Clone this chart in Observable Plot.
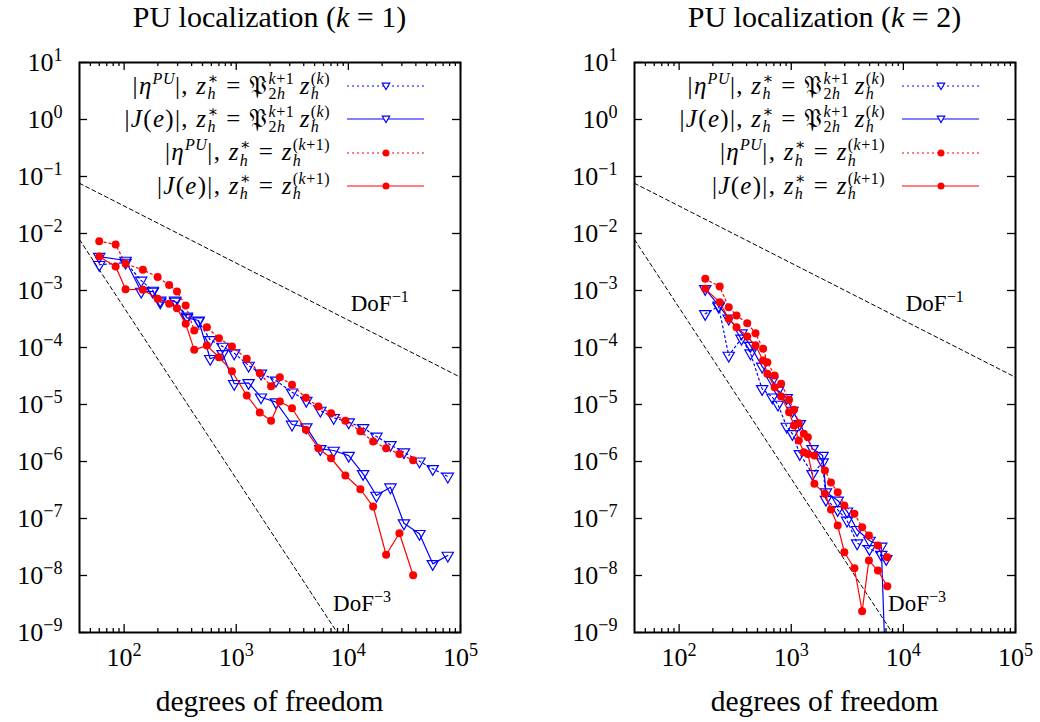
<!DOCTYPE html>
<html><head><meta charset="utf-8">
<script src="https://cdn.jsdelivr.net/npm/d3@7"></script>
<script src="https://cdn.jsdelivr.net/npm/@observablehq/plot@0.6"></script>
<style>
body{margin:0;background:#fff;}
#root{position:relative;width:1040px;height:722px;overflow:hidden;font-family:'Liberation Serif','DejaVu Serif',serif;color:#000;background:#fff}
.panel{position:absolute;top:0;height:722px}
.title{position:absolute;top:0;height:34px;line-height:34px;font-size:30px;text-align:center;white-space:nowrap}
.xlabel{position:absolute;top:685px;height:32px;line-height:32px;font-size:29.5px;text-align:center;white-space:nowrap}
.leg{position:absolute;height:30px;display:flex;align-items:center;justify-content:flex-end;font-size:25px;white-space:nowrap;line-height:1;letter-spacing:1.3px}
.ss{display:inline-flex;flex-direction:column;font-size:0.64em;line-height:0.95;vertical-align:0.6em;text-align:left;letter-spacing:0.5px}
sup{font-size:0.64em;vertical-align:0.6em;line-height:0;letter-spacing:0.5px}
.sp{display:inline-block;width:0.22em}
.sw{position:absolute}
</style>
</head><body>
<div id="root"></div>
<script>
// ---------- data ----------
// Left panel (k = 1)
const leftRedX   = [60, 84, 103, 147, 199, 252, 296, 354, 422, 547, 701, 915, 1241, 1621, 2045, 2446, 3143, 4174, 5398, 7006, 9402, 12800, 16620, 21710, 28530, 37810];
const leftRedEta = [7.33e-3, 6.41e-3, 2.94e-3, 2.31e-3, 1.72e-3, 1.25e-3, 9.6e-4, 5.45e-4, 1.99e-4, 2.27e-4, 1.46e-4, 1.04e-4, 6.34e-5, 3.54e-5, 2.09e-5, 3.01e-5, 2.22e-5, 1.31e-5, 9.2e-6, 7.0e-6, 5.2e-6, 3.4e-6, 2.24e-6, 1.71e-6, 1.36e-6, 1.05e-6];
const leftRedJ   = [3.94e-3, 2.64e-3, 1.05e-3, 1.03e-3, 7.15e-4, 5.85e-4, 4.89e-4, 2.6e-4, 9.1e-5, 1.08e-4, 6.76e-5, 3.84e-5, 1.44e-5, 7.25e-6, 5.18e-6, 1.13e-5, 8.6e-6, 3.6e-6, 1.71e-6, 1.14e-6, 5.68e-7, 3.26e-7, 1.62e-7, 2.31e-8, 5.52e-8, 1.01e-8];
const leftBlueX   = [60, 103, 142, 180, 210, 285, 363, 461, 586, 755, 959, 1288, 1662, 2262, 3143, 4217, 5623, 7393, 10063, 13532, 17783, 23714, 31294, 43046, 56576, 77006];
const leftBlueEta = [2.83e-3, 3.1e-3, 1.5e-3, 1.0e-3, 6.68e-4, 6.68e-4, 3.5e-4, 2.89e-4, 1.36e-4, 1.04e-4, 7.95e-5, 4.83e-5, 3.5e-5, 2.64e-5, 1.64e-5, 1.17e-5, 7.85e-6, 5.85e-6, 4.89e-6, 3.9e-6, 2.75e-6, 1.96e-6, 1.46e-6, 1.01e-6, 7.44e-7, 5.46e-7];
const leftBlueJ   = [3.94e-3, 3.36e-3, 9.6e-4, 9.6e-4, 6.24e-4, 6.41e-4, 3.32e-4, 2.98e-4, 6.34e-5, 7.75e-5, 2.31e-5, 2.4e-5, 1.34e-5, 1.10e-5, 4.46e-6, 4.0e-6, 1.67e-6, 1.56e-6, 1.27e-6, 6.08e-7, 2.53e-7, 3.54e-7, 8.28e-8, 5.4e-8, 1.6e-8, 2.24e-8];
// Right panel (k = 2)
const rightRedX   = [171, 230, 277, 325, 405, 480, 561, 612, 711, 813, 956, 1059, 1168, 1295, 1406, 1608, 1997, 2261, 2596, 2975, 3658, 4289, 4924, 5932, 7187];
const rightRedEta = [1.60e-3, 1.17e-3, 5.09e-4, 3.64e-4, 2.67e-4, 1.78e-4, 9.5e-5, 5.52e-5, 3.23e-5, 2.31e-5, 1.21e-5, 8.07e-6, 4.70e-6, 3.06e-6, 2.67e-6, 1.27e-6, 6.95e-7, 4.28e-7, 2.89e-7, 1.69e-7, 1.21e-7, 7.03e-8, 5.03e-8, 3.36e-8, 2.09e-8];
const rightRedJ   = [1.07e-3, 6.24e-4, 3.19e-4, 2.27e-4, 1.56e-4, 1.08e-4, 5.92e-5, 3.46e-5, 2.01e-5, 1.38e-5, 7.32e-6, 4.28e-6, 2.34e-6, 1.46e-6, 1.36e-6, 4.06e-7, 2.71e-7, 1.44e-7, 7.54e-8, 2.56e-8, 1.34e-8, 2.36e-9, 1.83e-8, 1.22e-8, 6.49e-9];
const rightBlueX   = [171, 225, 277, 360, 433, 550, 678, 761, 911, 1025, 1192, 1549, 1905, 2039, 2596, 3147, 3867, 4987, 6350, 7040];
const rightBlueEta = [3.90e-4, 5.24e-4, 7.24e-5, 1.44e-4, 7.94e-5, 1.88e-5, 1.34e-5, 1.0e-5, 4.11e-6, 3.06e-6, 1.36e-6, 6.08e-7, 9.72e-7, 2.15e-7, 1.42e-7, 9.23e-8, 3.69e-8, 2.94e-8, 2.33e-8, 1.96e-8];
const rightBlueJ   = [1.07e-3, 5.46e-4, 3.23e-4, 1.78e-4, 1.08e-4, 4.65e-5, 2.64e-5, 1.76e-5, 1.31e-5, 7.85e-6, 4.58e-6, 1.67e-6, 1.27e-6, 2.89e-7, 2.07e-7, 1.34e-7, 6.34e-8, 4.11e-8, 3.23e-8, 1e-10];
// Reference slopes (end points)
const refDoF1X = [40, 1e5];
const refDoF1Y = [0.076, 3.0e-5];
const refDoF3X = [40, 1e4];
const refDoF3Y = [7.8e-3, 5.0e-10];
const refLabels = ["DoF^−1", "DoF^−3"];
const refLabelX = [10500, 7300];
const refLabelY = [6.0e-4, 3.2e-9];
// Axes
const xMajor = [1e2, 1e3, 1e4, 1e5];
const yMajor = [1e1, 1e0, 1e-1, 1e-2, 1e-3, 1e-4, 1e-5, 1e-6, 1e-7, 1e-8, 1e-9];
const panelTitles = ["1", "2"];
const xLabel = "degrees of freedom";

// ---------- drawing ----------
const FONT = "'Liberation Serif', 'DejaVu Serif', serif";
const BLUE = "#0000ff", RED = "#ff0000";
const NS = "http://www.w3.org/2000/svg";
const xMinor = [];
for (let e = 1; e <= 4; e++) for (let m = 2; m <= 9; m++) { const v = m * 10 ** e; if (v > 40 && v < 1e5) xMinor.push(v); }
const fmt = d => { const e = Math.round(Math.log10(d)); return "10^" + (e < 0 ? "−" + (-e) : e); };
const pts = (xs, ys) => xs.map((x, i) => ({x, y: ys[i]}));

function seriesMarks(xs, ys, color, dotted, sym) {
  const d = pts(xs, ys);
  const lineOpts = {x: "x", y: "y", stroke: color, strokeWidth: 1.2, clip: true};
  if (dotted) lineOpts.strokeDasharray = "2,3";
  const dot = sym === "circle"
    ? Plot.dot(d, {x: "x", y: "y", r: 4, fill: color, stroke: "none", clip: true})
    : Plot.dot(d, {x: "x", y: "y", symbol: "triangle", r: 4.2, rotate: 180, stroke: color, fill: "none", strokeWidth: 1.2, clip: true});
  return [Plot.line(d, lineOpts), dot];
}

function fixSup(el) {
  const s = el.textContent; const i = s.indexOf("^");
  if (i < 0) return;
  el.textContent = "";
  const a = document.createElementNS(NS, "tspan"); a.textContent = s.slice(0, i);
  const b = document.createElementNS(NS, "tspan"); b.textContent = s.slice(i + 1);
  b.setAttribute("dy", "-0.55em"); b.setAttribute("font-size", "0.7em");
  el.append(a, b);
}

const ML = 79, MT = 62, MB = 90, H = 722;
function makePanel(width, mr, blueX, blueEta, blueJ, redX, redEta, redJ) {
  const fw = width - ML - mr, fh = H - MT - MB;
  const svg = Plot.plot({
    width, height: H, marginLeft: ML, marginRight: mr, marginTop: MT, marginBottom: MB,
    style: {fontFamily: FONT, fontSize: "24px", background: "transparent", overflow: "visible", color: "black"},
    x: {type: "log", domain: [40, 1e5]},
    y: {type: "log", domain: [1e-9, 10]},
    marks: [
      Plot.axisX({anchor: "bottom", ticks: xMajor, tickSize: 0, tickPadding: 15, tickFormat: fmt, label: null, fontSize: 26}),
      Plot.axisY({anchor: "left", ticks: yMajor, tickSize: 0, tickPadding: 17, tickFormat: fmt, label: null, fontSize: 26}),
      Plot.tickX(xMajor, {x: d => d, insetTop: fh - 8, stroke: "black", strokeWidth: 1.3}),
      Plot.tickX(xMajor, {x: d => d, insetBottom: fh - 8, stroke: "black", strokeWidth: 1.3}),
      Plot.tickX(xMinor, {x: d => d, insetTop: fh - 4, stroke: "black", strokeWidth: 1.3}),
      Plot.tickX(xMinor, {x: d => d, insetBottom: fh - 4, stroke: "black", strokeWidth: 1.3}),
      Plot.tickY(yMajor, {y: d => d, insetRight: fw - 8, stroke: "black", strokeWidth: 1.3}),
      Plot.tickY(yMajor, {y: d => d, insetLeft: fw - 8, stroke: "black", strokeWidth: 1.3}),
      Plot.line(pts(refDoF1X, refDoF1Y), {x: "x", y: "y", stroke: "black", strokeWidth: 1, strokeDasharray: "4,3", clip: true}),
      Plot.line(pts(refDoF3X, refDoF3Y), {x: "x", y: "y", stroke: "black", strokeWidth: 1, strokeDasharray: "4,3", clip: true}),
      Plot.text(refLabels.map((t, i) => ({t, x: refLabelX[i], y: refLabelY[i]})), {x: "x", y: "y", text: "t", textAnchor: "start", fontSize: 23, fill: "black"}),
      ...seriesMarks(blueX, blueEta, BLUE, true, "tri"),
      ...seriesMarks(blueX, blueJ, BLUE, false, "tri"),
      ...seriesMarks(redX, redEta, RED, true, "circle"),
      ...seriesMarks(redX, redJ, RED, false, "circle"),
      Plot.frame({stroke: "black", strokeWidth: 2})
    ]
  });
  svg.querySelectorAll("text").forEach(t => {
    const ts = t.querySelectorAll("tspan");
    if (ts.length) ts.forEach(fixSup); else fixSup(t);
  });
  return svg;
}

const ss = (up, dn) => `<span class="ss"><span>${up}</span><span>${dn}</span></span>`;
const SP = `<span class="sp"></span>`;
const P = `𝔓${ss('<i>k</i>+1', '2<i>h</i>')}${SP}`;
const legendRows = [
  {html: `|<i>η</i><sup><i>PU</i></sup>|, <i>z</i>${ss('∗', '<i>h</i>')} = ${P}<i>z</i>${ss('(<i>k</i>)', '<i>h</i>')}`, color: BLUE, dotted: true, sym: "tri"},
  {html: `|<i>J</i>(<i>e</i>)|, <i>z</i>${ss('∗', '<i>h</i>')} = ${P}<i>z</i>${ss('(<i>k</i>)', '<i>h</i>')}`, color: BLUE, dotted: false, sym: "tri"},
  {html: `|<i>η</i><sup><i>PU</i></sup>|, <i>z</i>${ss('∗', '<i>h</i>')} = <i>z</i>${ss('(<i>k</i>+1)', '<i>h</i>')}`, color: RED, dotted: true, sym: "circle"},
  {html: `|<i>J</i>(<i>e</i>)|, <i>z</i>${ss('∗', '<i>h</i>')} = <i>z</i>${ss('(<i>k</i>+1)', '<i>h</i>')}`, color: RED, dotted: false, sym: "circle"}
];
const rowY = [86, 119, 152.5, 186];

const root = document.getElementById("root");
const panels = [
  {left: 0, width: 520, mr: 60, data: [leftBlueX, leftBlueEta, leftBlueJ, leftRedX, leftRedEta, leftRedJ]},
  {left: 555, width: 485, mr: 25, data: [rightBlueX, rightBlueEta, rightBlueJ, rightRedX, rightRedEta, rightRedJ]}
];
panels.forEach((p, pi) => {
  const div = document.createElement("div");
  div.className = "panel"; div.style.left = p.left + "px"; div.style.width = p.width + "px";
  const svg = makePanel(p.width, p.mr, ...p.data);
  svg.style.position = "absolute"; svg.style.left = "0"; svg.style.top = "0";
  div.appendChild(svg);
  const fx0 = ML, fx1 = p.width - p.mr, fc = (fx0 + fx1) / 2;
  const title = document.createElement("div");
  title.className = "title"; title.style.left = (fc - 200) + "px"; title.style.width = "400px";
  title.innerHTML = `PU localization (<i>k</i> = ${panelTitles[pi]})`;
  div.appendChild(title);
  const xl = document.createElement("div");
  xl.className = "xlabel"; xl.style.left = (fc - 200) + "px"; xl.style.width = "400px";
  xl.textContent = xLabel;
  div.appendChild(xl);
  legendRows.forEach((r, i) => {
    const row = document.createElement("div");
    row.className = "leg";
    row.style.right = (p.width - (fx0 + 251)) + "px";
    row.style.top = (rowY[i] - 15) + "px";
    row.innerHTML = `<span>${r.html}</span>`;
    div.appendChild(row);
    const sw = document.createElementNS(NS, "svg");
    sw.setAttribute("class", "sw"); sw.setAttribute("width", 77); sw.setAttribute("height", 14);
    sw.style.left = (fx0 + 268) + "px"; sw.style.top = (rowY[i] - 7) + "px";
    const ln = document.createElementNS(NS, "line");
    ln.setAttribute("x1", 0); ln.setAttribute("x2", 77); ln.setAttribute("y1", 7); ln.setAttribute("y2", 7);
    ln.setAttribute("stroke", r.color); ln.setAttribute("stroke-width", 1.2);
    if (r.dotted) ln.setAttribute("stroke-dasharray", "2,3");
    sw.appendChild(ln);
    if (r.sym === "circle") {
      const c = document.createElementNS(NS, "circle");
      c.setAttribute("cx", 39); c.setAttribute("cy", 7); c.setAttribute("r", 3.5); c.setAttribute("fill", r.color);
      sw.appendChild(c);
    } else {
      const t = document.createElementNS(NS, "path");
      t.setAttribute("d", "M35.3,4.2L42.7,4.2L39,10.6Z");
      t.setAttribute("fill", "white"); t.setAttribute("stroke", r.color); t.setAttribute("stroke-width", 1.2);
      sw.appendChild(t);
    }
    div.appendChild(sw);
  });
  root.appendChild(div);
});
</script>
</body></html>
